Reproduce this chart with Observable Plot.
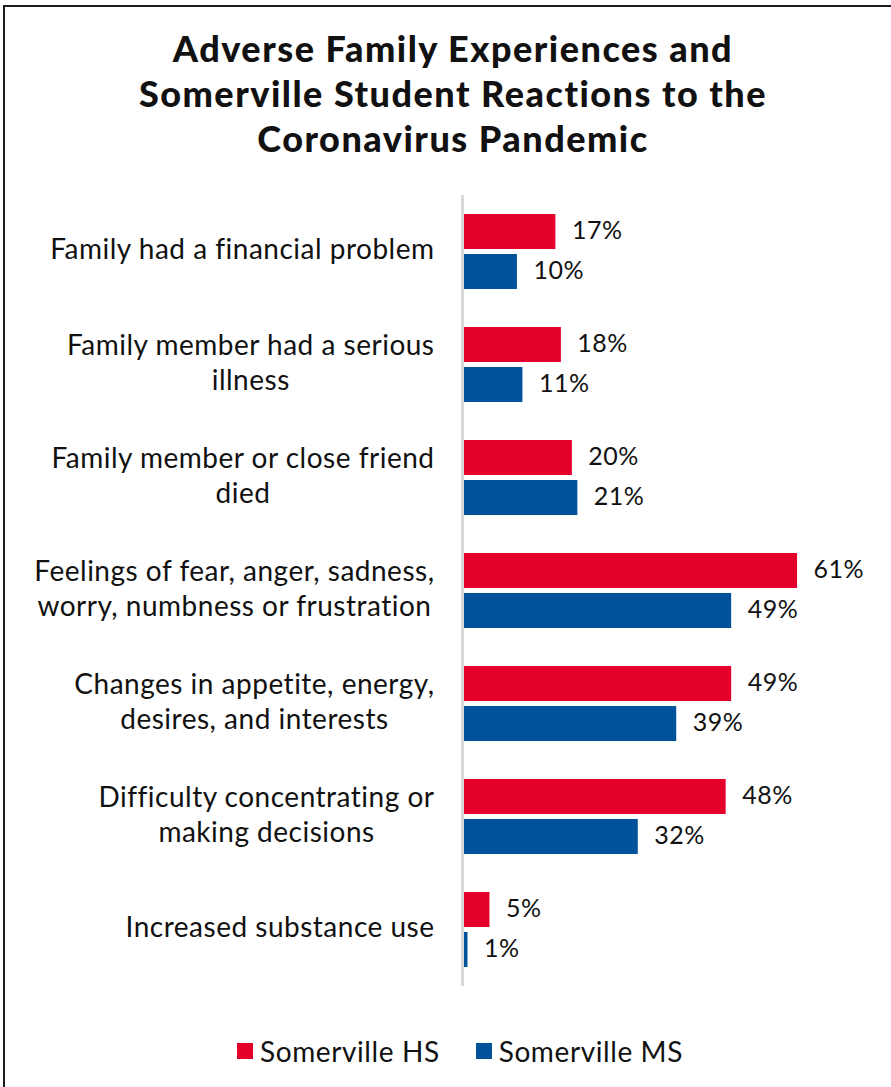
<!DOCTYPE html>
<html>
<head>
<meta charset="utf-8">
<script src="https://cdn.jsdelivr.net/npm/d3@7"></script>
<script src="https://cdn.jsdelivr.net/npm/@observablehq/plot@0.6"></script>
<style>
  html, body { margin: 0; padding: 0; background: #fff; }
  body { width: 891px; height: 1087px; position: relative; overflow: hidden; font-family: Lato, "Open Sans", sans-serif; color: #111; }
  #frame { position: absolute; left: 3px; top: 5px; width: 900px; height: 1100px; border: 2px solid #1c1c1c; box-sizing: border-box; }
  #title { position: absolute; top: 26px; left: 0; width: 906px; text-align: center; font-weight: 900; font-size: 36px; line-height: 45px; letter-spacing: 1.5px; }
  #chart { position: absolute; left: 0; top: 180px; }
  #chart svg text { letter-spacing: 0.5px; }
  #legend { position: absolute; top: 1031px; left: 0; width: 920px; text-align: center; font-size: 28px; letter-spacing: 0.6px; }
  .item { display: inline-flex; align-items: center; margin: 0 18px; }
  .sw { width: 16px; height: 16px; display: inline-block; margin-right: 7px; }
</style>
</head>
<body>
<div id="frame"></div>
<div id="title">Adverse Family Experiences and<br>Somerville Student Reactions to the<br>Coronavirus Pandemic</div>
<div id="chart"></div>
<div id="legend"></div>
<script>
const categories = [
  "Family had a financial problem",
  "Family member had a serious\nillness",
  "Family member or close friend\ndied",
  "Feelings of fear, anger, sadness,\nworry, numbness or frustration",
  "Changes in appetite, energy,\ndesires, and interests",
  "Difficulty concentrating or\nmaking decisions",
  "Increased substance use"
];
const schools = ["Somerville HS", "Somerville MS"];
const hsValues = [17, 18, 20, 61, 49, 48, 5];
const msValues = [10, 11, 21, 49, 39, 32, 1];
const colors = ["#E4002B", "#00539B"];

const data = categories.flatMap((c, i) => [
  {category: c, school: schools[0], value: hsValues[i]},
  {category: c, school: schools[1], value: msValues[i]}
]);

const chart = Plot.plot({
  width: 891,
  height: 820,
  marginLeft: 462,
  marginRight: 0,
  marginTop: 13,
  marginBottom: 13,
  style: {fontFamily: "Lato, 'Open Sans', sans-serif", color: "#111", background: "transparent"},
  x: {domain: [0, 78.1], axis: null},
  fy: {domain: categories, padding: 0, axis: null},
  y: {domain: schools, axis: null, paddingInner: 0.122, paddingOuter: 0.444},
  color: {domain: schools, range: colors},
  marks: [
    Plot.barX(data, {fy: "category", y: "school", x: "value", fill: "school"}),
    Plot.text(data, {fy: "category", y: "school", x: "value", text: d => d.value + "%", textAnchor: "start", dx: 16, dy: -1, fontSize: 25, fill: "#111"}),
    Plot.ruleX([0], {stroke: "#d9d9d9", strokeWidth: 3}),
    Plot.text(categories, {fy: d => d, text: d => d, frameAnchor: "left", textAnchor: "end", dx: -28, dy: -4, fontSize: 28, lineHeight: 1.25, fill: "#111"})
  ]
});
document.getElementById("chart").appendChild(chart);

// center the wrapped lines of each category label on each other (right edge fixed)
chart.querySelectorAll("text").forEach(t => {
  const spans = t.querySelectorAll("tspan");
  if (spans.length < 2) return;
  const widths = Array.from(spans, s => s.getComputedTextLength());
  const maxW = Math.max(...widths);
  spans.forEach((s, i) => {
    const x0 = +(s.getAttribute("x") || 0);
    s.setAttribute("x", x0 - (maxW - widths[i]) / 2);
  });
});

const legend = document.getElementById("legend");
schools.forEach((s, i) => {
  const item = document.createElement("span");
  item.className = "item";
  item.innerHTML = `<span class="sw" style="background:${colors[i]}"></span>${s}`;
  legend.appendChild(item);
});
</script>
</body>
</html>
